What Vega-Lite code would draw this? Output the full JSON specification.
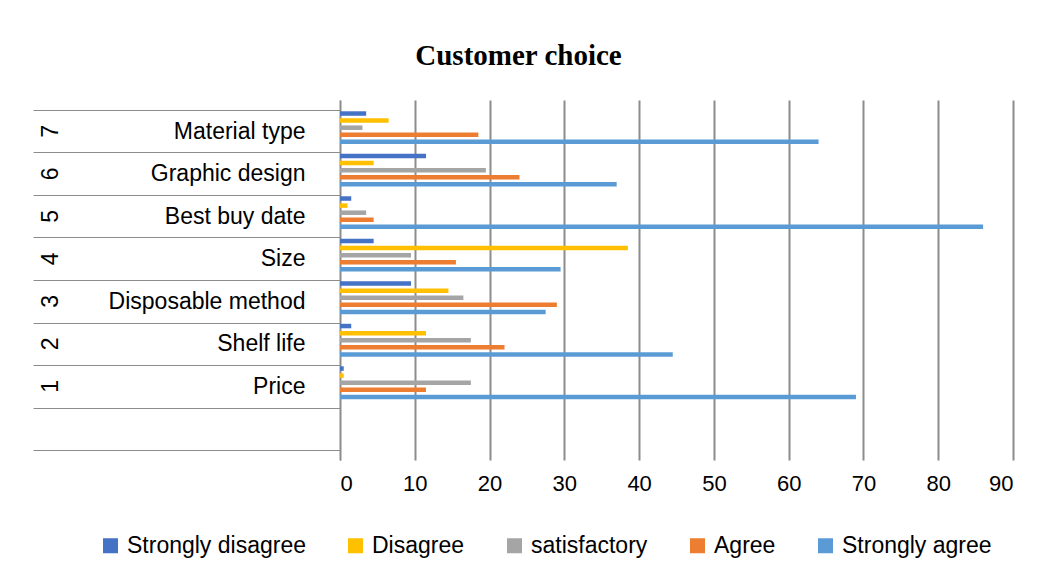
{
  "$schema": "https://vega.github.io/schema/vega-lite/v6.json",
  "autosize": "none",
  "padding": {"left": 340, "top": 100, "right": 51, "bottom": 119},
  "width": 673,
  "height": 360,
  "background": "white",
  "title": {
    "text": "Customer  choice",
    "font": "Liberation Serif",
    "fontSize": 29,
    "fontWeight": "bold",
    "color": "black",
    "frame": "group",
    "anchor": "middle",
    "dx": -158,
    "baseline": "bottom",
    "offset": -11
  },
  "config": {
    "view": {"stroke": null},
    "font": "Liberation Sans"
  },
  "data": {
    "values": [
      {"item": "7", "series": "Strongly disagree", "value": 3.5},
      {"item": "7", "series": "Disagree", "value": 6.5},
      {"item": "7", "series": "satisfactory", "value": 3},
      {"item": "7", "series": "Agree", "value": 18.5},
      {"item": "7", "series": "Strongly agree", "value": 64},
      {"item": "6", "series": "Strongly disagree", "value": 11.5},
      {"item": "6", "series": "Disagree", "value": 4.5},
      {"item": "6", "series": "satisfactory", "value": 19.5},
      {"item": "6", "series": "Agree", "value": 24},
      {"item": "6", "series": "Strongly agree", "value": 37},
      {"item": "5", "series": "Strongly disagree", "value": 1.5},
      {"item": "5", "series": "Disagree", "value": 1},
      {"item": "5", "series": "satisfactory", "value": 3.5},
      {"item": "5", "series": "Agree", "value": 4.5},
      {"item": "5", "series": "Strongly agree", "value": 86},
      {"item": "4", "series": "Strongly disagree", "value": 4.5},
      {"item": "4", "series": "Disagree", "value": 38.5},
      {"item": "4", "series": "satisfactory", "value": 9.5},
      {"item": "4", "series": "Agree", "value": 15.5},
      {"item": "4", "series": "Strongly agree", "value": 29.5},
      {"item": "3", "series": "Strongly disagree", "value": 9.5},
      {"item": "3", "series": "Disagree", "value": 14.5},
      {"item": "3", "series": "satisfactory", "value": 16.5},
      {"item": "3", "series": "Agree", "value": 29},
      {"item": "3", "series": "Strongly agree", "value": 27.5},
      {"item": "2", "series": "Strongly disagree", "value": 1.5},
      {"item": "2", "series": "Disagree", "value": 11.5},
      {"item": "2", "series": "satisfactory", "value": 17.5},
      {"item": "2", "series": "Agree", "value": 22},
      {"item": "2", "series": "Strongly agree", "value": 44.5},
      {"item": "1", "series": "Strongly disagree", "value": 0.5},
      {"item": "1", "series": "Disagree", "value": 0.5},
      {"item": "1", "series": "satisfactory", "value": 17.5},
      {"item": "1", "series": "Agree", "value": 11.5},
      {"item": "1", "series": "Strongly agree", "value": 69}
    ]
  },
  "layer": [
    {
      "mark": {"type": "bar", "size": 4.5},
      "encoding": {
        "y": {
          "field": "item",
          "type": "nominal",
          "scale": {"domain": ["7", "6", "5", "4", "3", "2", "1", "0"], "paddingInner": 0, "paddingOuter": 0.235},
          "axis": {
            "title": null,
            "orient": "left",
            "tickBand": "extent",
            "tickSize": 307,
            "tickColor": "#8c8c8c",
            "tickWidth": 1,
            "domain": true,
            "domainColor": "#8c8c8c",
            "labelPadding": -272,
            "labelAlign": "right",
            "labelBaseline": "middle",
            "labelLimit": 0,
            "labelFontSize": 23,
            "labelColor": "black",
            "labelFont": "Liberation Sans",
            "labelExpr": "datum.value == '7' ? 'Material type' : datum.value == '6' ? 'Graphic design' : datum.value == '5' ? 'Best buy date' : datum.value == '4' ? 'Size' : datum.value == '3' ? 'Disposable method' : datum.value == '2' ? 'Shelf life' : datum.value == '1' ? 'Price' : ''"
          }
        },
        "yOffset": {
          "field": "series",
          "type": "nominal",
          "scale": {"domain": ["Strongly disagree", "Disagree", "satisfactory", "Agree", "Strongly agree", "pad"], "paddingInner": 0, "paddingOuter": 0}
        },
        "x": {
          "field": "value",
          "type": "quantitative",
          "scale": {"domain": [0, 90], "nice": false},
          "axis": {
            "title": null,
            "values": [0, 10, 20, 30, 40, 50, 60, 70, 80, 90],
            "domain": false,
            "ticks": false,
            "grid": true,
            "gridColor": "#8c8c8c",
            "gridWidth": 2,
            "labelPadding": 13,
            "labelFontSize": 22,
            "labelColor": "black",
            "labelFont": "Liberation Sans"
          }
        },
        "color": {
          "field": "series",
          "type": "nominal",
          "scale": {
            "domain": ["Strongly disagree", "Disagree", "satisfactory", "Agree", "Strongly agree"],
            "range": ["#4472C4", "#FFC000", "#A5A5A5", "#ED7D31", "#5B9BD5"]
          },
          "legend": {
            "title": null,
            "orient": "none",
            "legendX": -241,
            "legendY": 434,
            "direction": "horizontal",
            "symbolType": "square",
            "symbolSize": 225,
            "symbolStrokeWidth": 0,
            "labelFontSize": 23,
            "labelLimit": 0,
            "labelFont": "Liberation Sans",
            "labelColor": "black",
            "labelOffset": 5,
            "columnPadding": 38
          }
        }
      }
    },
    {
      "mark": {"type": "tick", "opacity": 0},
      "encoding": {
        "y": {
          "field": "item",
          "type": "nominal",
          "axis": {
            "title": null,
            "orient": "left",
            "ticks": false,
            "domain": false,
            "labelAngle": 270,
            "labelAlign": "center",
            "labelBaseline": "middle",
            "labelPadding": 290,
            "labelFontSize": 23,
            "labelColor": "black",
            "labelFont": "Liberation Sans",
            "labelExpr": "datum.value == '0' ? '' : datum.value"
          }
        }
      }
    }
  ],
  "resolve": {"axis": {"y": "independent"}}
}
